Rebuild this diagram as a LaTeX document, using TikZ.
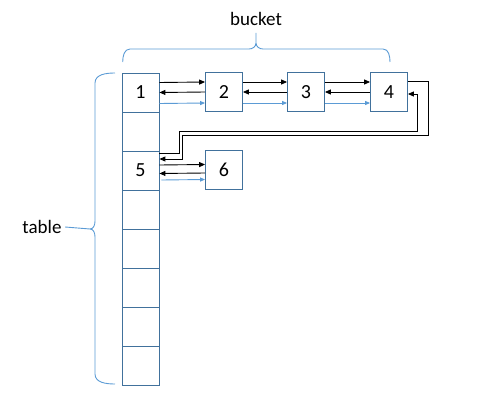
\documentclass[tikz,border=0pt]{standalone}
\usepackage{fontspec}
\setmainfont{Carlito}
\usepackage{tikz}
\usetikzlibrary{arrows.meta, positioning}

\definecolor{cellline}{RGB}{65,113,156}
\definecolor{linkblue}{RGB}{91,155,213}

\begin{document}
\begin{tikzpicture}[x=1pt, y=-1pt,
    cell/.style={rectangle, draw=cellline, line width=0.8pt, minimum width=37pt, minimum height=39pt, inner sep=0pt, font=\fontsize{20}{23}\selectfont},
    ptr/.style={-{Triangle[length=6pt,width=5pt]}, line width=0.9pt, black},
    bptr/.style={-{Triangle[length=5pt,width=4pt]}, line width=0.9pt, linkblue},
    brace/.style={draw=linkblue, line width=0.9pt},
    lbl/.style={font=\fontsize{19}{22}\selectfont}]
        \useasboundingbox (0,0) rectangle (477,404);

        % table column
        \foreach \i/\t in {1/1, 2/, 3/5, 4/, 5/, 6/, 7/, 8/}
            \node[cell] (t\i) at (140.5, {92.5+39*(\i-1)}) {\t};

        % bucket entries
        \node[cell] (b2) at (224, 92) {2};
        \node[cell] (b3) at (306, 92) {3};
        \node[cell] (b4) at (389, 92) {4};
        \node[cell] (b6) at (224, 170) {6};

        % links along the first bucket
        \draw[ptr] ([yshift=10pt]t1.east) -- ([yshift=10pt]b2.west);
        \draw[ptr] (b2.west) -- (t1.east);
        \draw[bptr] ([yshift=-11pt]t1.east) -- ([yshift=-11pt]b2.west);
        \draw[ptr] ([yshift=10pt]b2.east) -- ([yshift=10pt]b3.west);
        \draw[ptr] (b3.west) -- (b2.east);
        \draw[bptr] ([yshift=-11pt]b2.east) -- ([yshift=-11pt]b3.west);
        \draw[ptr] ([yshift=10pt]b3.east) -- ([yshift=10pt]b4.west);
        \draw[ptr] (b4.west) -- (b3.east);
        \draw[bptr] ([yshift=-11pt]b3.east) -- ([yshift=-11pt]b4.west);

        % 4 <-> 5 round the corner
        \draw[ptr] ([yshift=11pt]b4.east) -| (428,135) -| ([xshift=23pt,yshift=11.5pt]t3.east) -- ([yshift=11.5pt]t3.east);
        \draw[ptr] ([yshift=17.5pt]t3.east) -| (179,131) -| ([xshift=10pt,yshift=-2pt]b4.east) -- ([yshift=-2pt]b4.east);

        % second bucket
        \draw[ptr] ([yshift=5.5pt]t3.east) -- ([yshift=5.5pt]b6.west);
        \draw[ptr] ([yshift=-3pt]b6.west) -- ([yshift=-3pt]t3.east);
        \draw[bptr] ([xshift=2pt,yshift=-9.5pt]t3.east) -- ([yshift=-9.5pt]b6.west);

        % braces and labels
        \node[lbl] (bucket) at (256, 19) {bucket};
        \node[lbl] (table) at (42, 227) {table};
        \path[brace] (122.7,62) to[out=90,in=180] (130,49) -- (249,49) to[out=0,in=-90] (256,43) -- (256,33)
            (256,43) to[out=-90,in=180] (263,49) -- (383,49) to[out=0,in=90] (390,62);
        \coordinate (tip) at (90,229);
        \path[brace] (115,73) to[out=180,in=90] (95,83) -- (95,221) to[out=-90,in=0] (tip)
            (tip) to[out=0,in=90] (95,237) -- (95,374) to[out=-90,in=180] (115,384);
        \draw[brace] (table.east) -- (tip);
    \end{tikzpicture}
\end{document}
